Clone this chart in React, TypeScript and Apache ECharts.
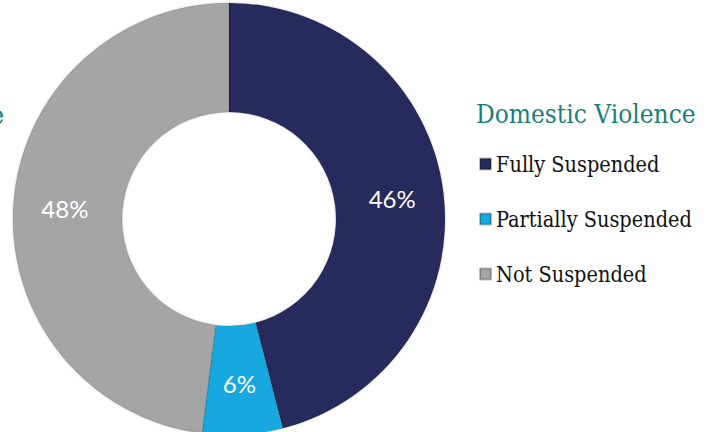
import React, { useEffect, useRef } from "react";
import * as echarts from "echarts";

const categories = ["Fully Suspended", "Partially Suspended", "Not Suspended"];
const values = [46, 6, 48];
const colors = ["#262b5c", "#17a8df", "#a5a5a5"];
const title = "Domestic Violence";

export default function App() {
  const ref = useRef<HTMLDivElement>(null);
  useEffect(() => {
    if (!ref.current) return;
    const chart = echarts.init(ref.current, null, { renderer: "svg" });
    const serif = "'DejaVu Serif Condensed', 'DejaVu Serif', serif";
    chart.setOption({
      animation: false,
      backgroundColor: "#ffffff",
      title: {
        text: title,
        left: 471,
        top: 96,
        textStyle: { color: "#177f78", fontFamily: serif, fontSize: 26, fontWeight: "normal" },
      },
      legend: {
        orient: "vertical",
        left: 474,
        top: 148,
        itemWidth: 11,
        itemHeight: 11,
        itemGap: 33,
        icon: "rect",
        data: categories,
        textStyle: { color: "#111111", fontFamily: serif, fontSize: 21.5 },
      },
      graphic: [
        {
          type: "text",
          right: 711,
          top: 102,
          style: { text: title, fill: "#177f78", font: `26px ${serif}`, textAlign: "right" },
        },
      ],
      series: [
        {
          type: "pie",
          center: [229, 219],
          radius: [107, 216],
          startAngle: 90,
          clockwise: true,
          data: categories.map((name, i) => ({ name, value: values[i], itemStyle: { color: colors[i] } })),
          itemStyle: {
            borderColor: "rgba(0,0,0,0.25)",
            borderWidth: 0.5,
            shadowColor: "rgba(0,0,0,0.15)",
            shadowBlur: 3,
          },
          label: {
            show: true,
            position: "inside",
            formatter: "{c}%",
            color: "#ffffff",
            fontFamily: "Lato, sans-serif",
            fontWeight: "normal",
            fontSize: 24,
          },
          labelLine: { show: false },
          emphasis: { disabled: true },
        },
      ],
    });
    return () => chart.dispose();
  }, []);
  return <div ref={ref} style={{ position: "fixed", left: 0, top: 0, width: 715, height: 432 }} />;
}
